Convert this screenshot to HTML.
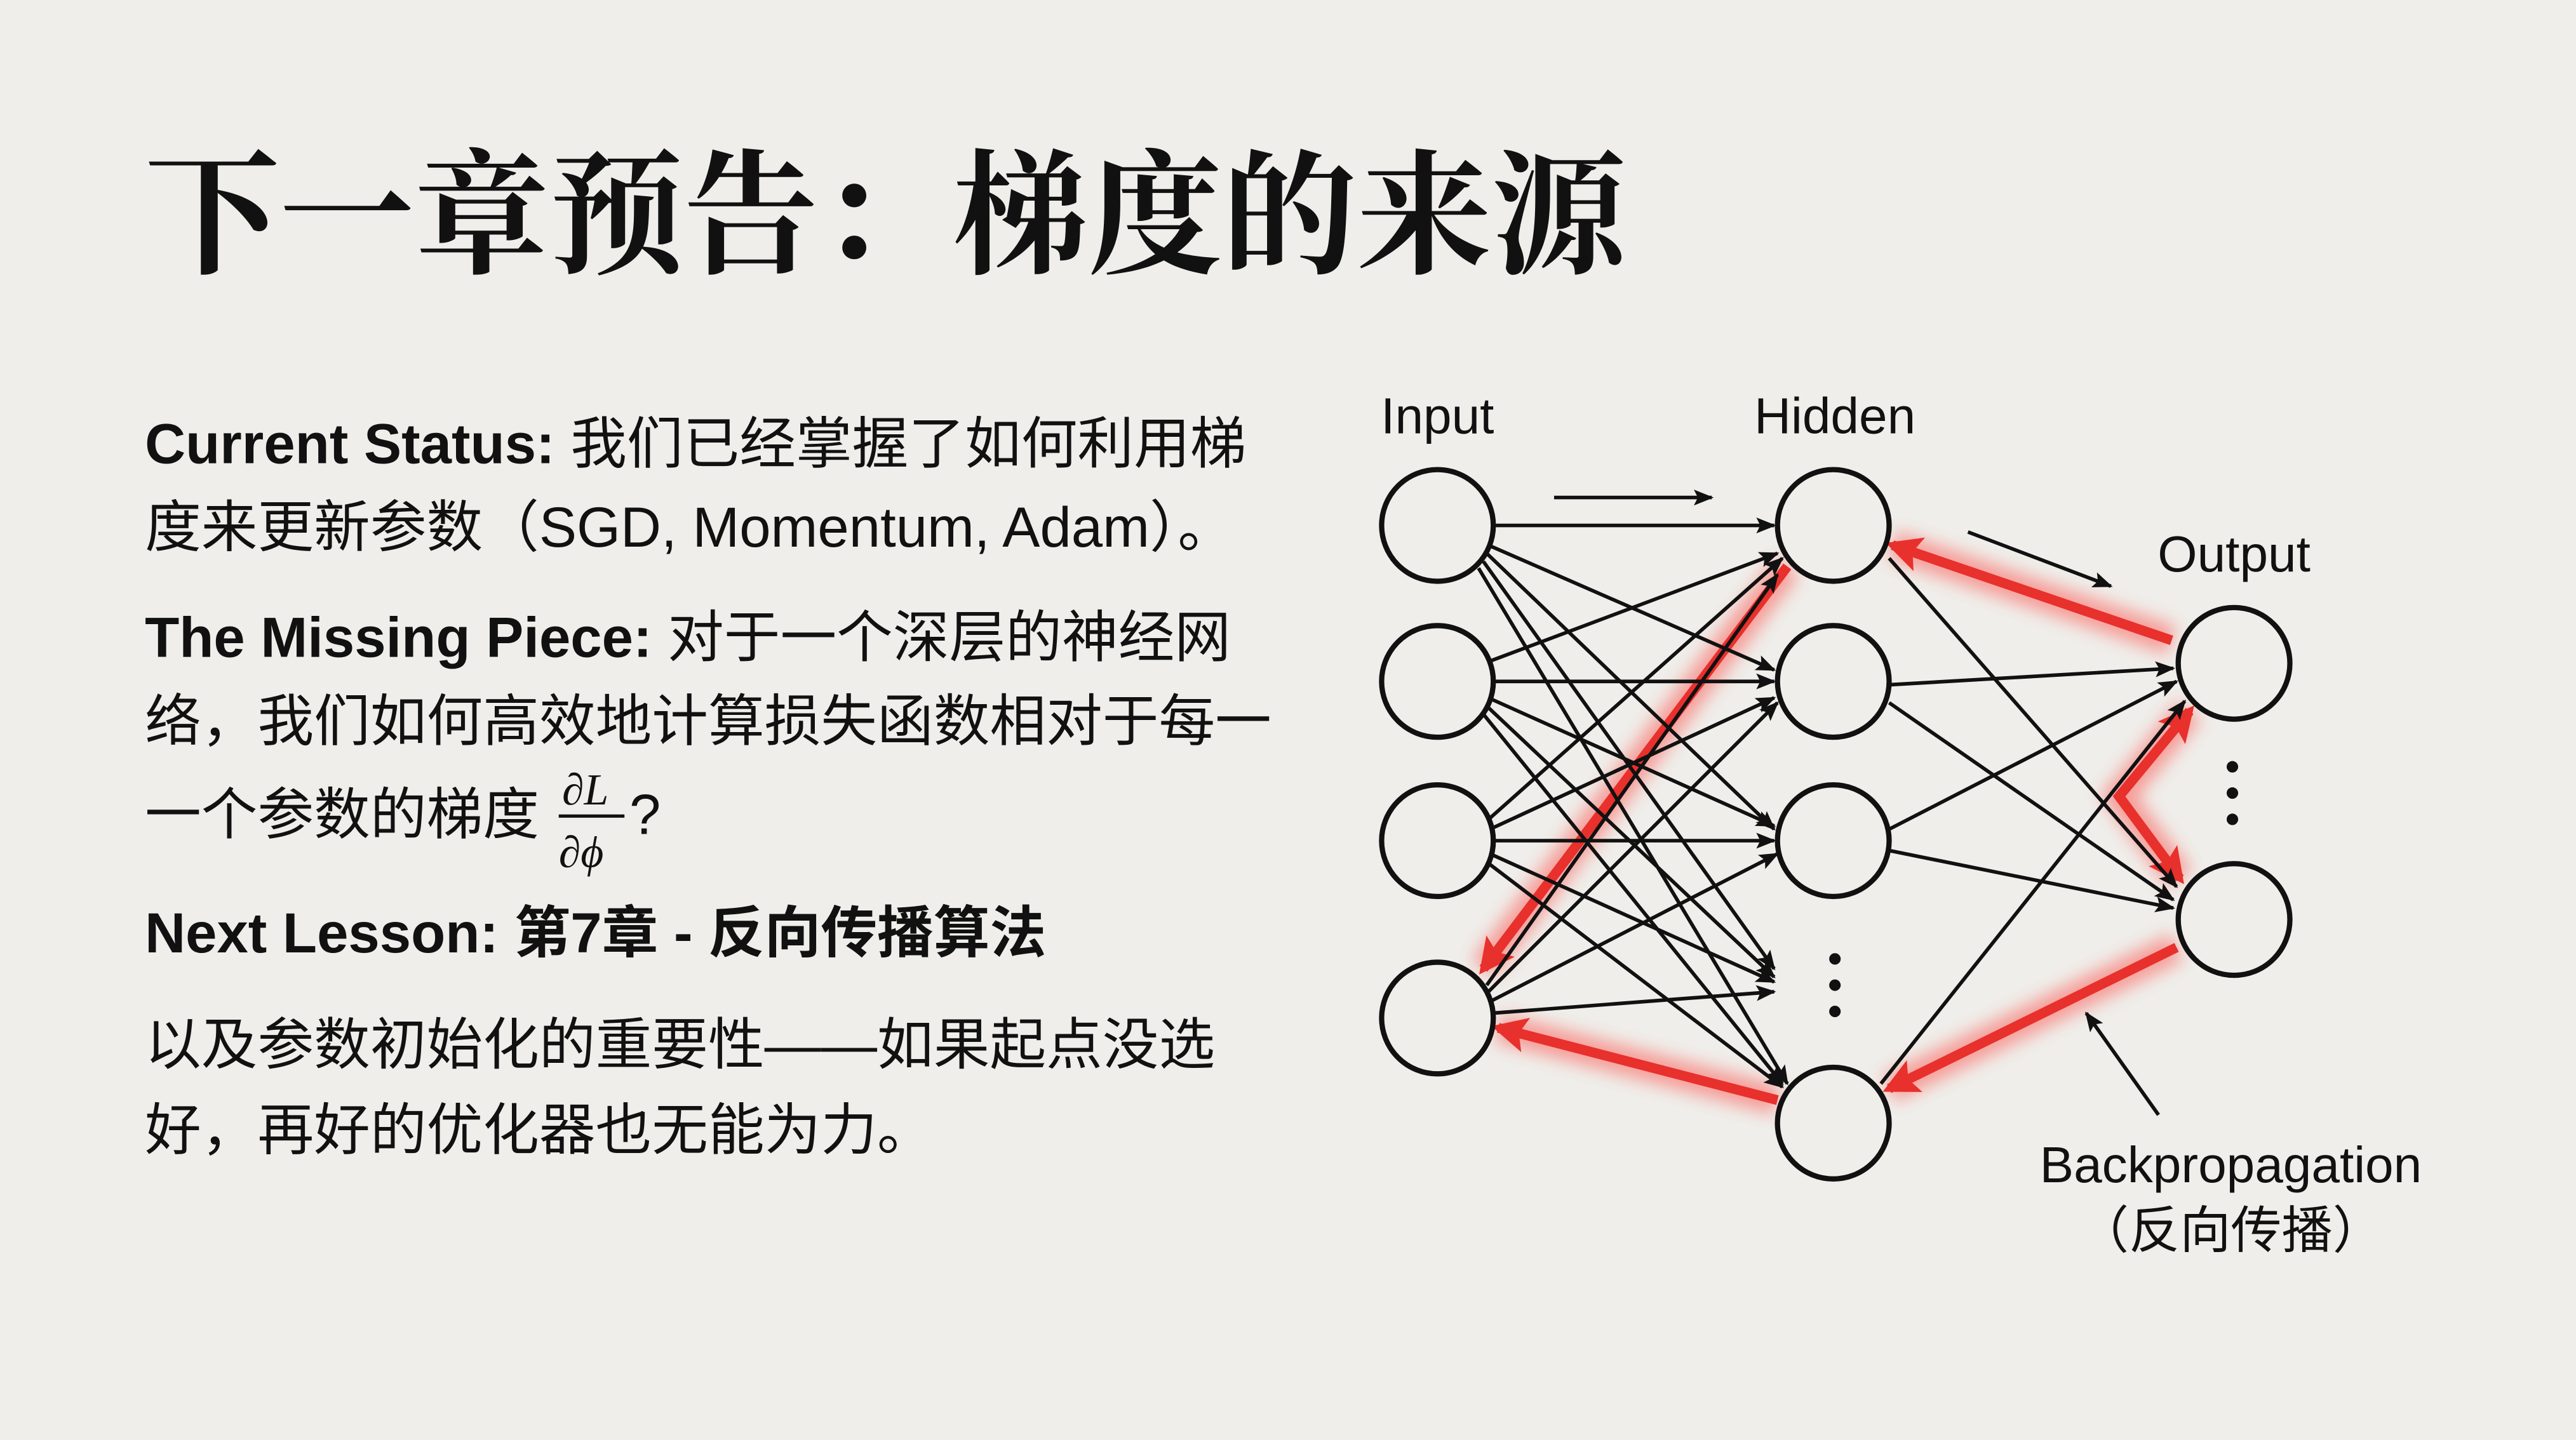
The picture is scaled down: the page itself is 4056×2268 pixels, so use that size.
<!DOCTYPE html>
<html><head><meta charset="utf-8"><style>
html,body{margin:0;padding:0;background:#efeeea;}
svg{display:block}
text{font-family:"Liberation Sans","Noto Sans CJK SC",sans-serif;fill:#111}
</style></head><body>
<svg width="4056" height="2268" viewBox="0 0 1568 877" xmlns="http://www.w3.org/2000/svg">
<defs>
<marker id="a" viewBox="0 0 10 10" refX="9" refY="5" markerWidth="5.5" markerHeight="5.5" orient="auto-start-reverse"><path d="M0,1 L10,5 L0,9 L2,5 z" fill="#111"/></marker>
<marker id="r" viewBox="0 0 10 10" refX="8" refY="5" markerWidth="3.6" markerHeight="3.6" orient="auto-start-reverse"><path d="M0,0 L10,5 L0,10 L2,5 z" fill="#e8302c"/></marker>
<filter id="g" x="-20%" y="-20%" width="140%" height="140%"><feGaussianBlur stdDeviation="5"/></filter>
</defs>
<rect width="1568" height="877" fill="#efeeea"/>
<text x="88" y="160" font-size="82" font-weight="bold" style="font-family:'Noto Serif CJK SC',serif">下一章预告：梯度的来源</text>

<g font-size="34.3">
<text x="88" y="282"><tspan font-weight="bold">Current Status:</tspan> 我们已经掌握了如何利用梯</text>
<text x="88" y="333">度来更新参数（SGD, Momentum, Adam）。</text>
<text x="88" y="400"><tspan font-weight="bold">The Missing Piece:</tspan> 对于一个深层的神经网</text>
<text x="88" y="451">络，我们如何高效地计算损失函数相对于每一</text>
<text x="88" y="508">一个参数的梯度</text>
<text x="342" y="490" font-size="27" font-style="italic" style="font-family:'Liberation Serif',serif">∂L</text>
<line x1="340" y1="497" x2="380" y2="497" stroke="#111" stroke-width="2"/>
<text x="340" y="528" font-size="27" font-style="italic" style="font-family:'Liberation Serif',serif">∂ϕ</text>
<text x="383" y="508">?</text>
<text x="88" y="580" font-weight="bold">Next Lesson:  第7章 - 反向传播算法</text>
<text x="88" y="648">以及参数初始化的重要性——如果起点没选</text>
<text x="88" y="700">好，再好的优化器也无能为力。</text>
</g>

<g font-size="31" text-anchor="middle">
<text x="875" y="264">Input</text>
<text x="1117" y="264">Hidden</text>
<text x="1360" y="348">Output</text>
<text x="1358" y="720">Backpropagation</text>
<text x="1358" y="760">（反向传播）</text>
</g>

<g stroke="#ff3b36" stroke-width="18" opacity="0.45" filter="url(#g)" fill="none">
<line x1="1322" y1="390" x2="1152" y2="332"/>
<line x1="1088" y1="345" x2="903" y2="590"/>
<line x1="1325" y1="577" x2="1150" y2="663"/>
<line x1="1082" y1="670" x2="912" y2="626"/>
<polyline points="1333,433 1290,485 1327,535"/>
</g>
<g stroke="#e8302c" stroke-width="6" fill="none">
<line x1="1322" y1="390" x2="1152" y2="332" marker-end="url(#r)"/>
<line x1="1088" y1="345" x2="903" y2="590" marker-end="url(#r)"/>
<line x1="1325" y1="577" x2="1150" y2="663" marker-end="url(#r)"/>
<line x1="1082" y1="670" x2="912" y2="626" marker-end="url(#r)"/>
<polyline points="1333,433 1290,485 1327,535" marker-start="url(#r)" marker-end="url(#r)"/>
</g>

<g stroke="#111" stroke-width="2.2" fill="none" marker-end="url(#a)">
<line x1="909" y1="320" x2="1080" y2="320"/>
<line x1="906" y1="332" x2="1080" y2="408"/>
<line x1="905" y1="337" x2="1080" y2="505"/>
<line x1="903" y1="342" x2="1080" y2="590"/>
<line x1="900" y1="346" x2="1088" y2="660"/>
<line x1="906" y1="403" x2="1082" y2="337"/>
<line x1="909" y1="415" x2="1080" y2="415"/>
<line x1="906" y1="425" x2="1080" y2="503"/>
<line x1="905" y1="430" x2="1080" y2="595"/>
<line x1="903" y1="435" x2="1085" y2="660"/>
<line x1="905" y1="500" x2="1085" y2="340"/>
<line x1="907" y1="505" x2="1080" y2="425"/>
<line x1="909" y1="512" x2="1080" y2="512"/>
<line x1="907" y1="520" x2="1080" y2="598"/>
<line x1="905" y1="525" x2="1085" y2="662"/>
<line x1="905" y1="600" x2="1082" y2="350"/>
<line x1="905" y1="605" x2="1082" y2="428"/>
<line x1="907" y1="610" x2="1082" y2="520"/>
<line x1="909" y1="617" x2="1080" y2="604"/>
<line x1="1150" y1="340" x2="1325" y2="540"/>
<line x1="1151" y1="417" x2="1323" y2="407"/>
<line x1="1150" y1="428" x2="1323" y2="548"/>
<line x1="1150" y1="505" x2="1325" y2="415"/>
<line x1="1150" y1="518" x2="1323" y2="553"/>
<line x1="1145" y1="660" x2="1330" y2="427"/>
<line x1="946" y1="303" x2="1042" y2="303"/>
<line x1="1198" y1="324" x2="1285" y2="357"/>
<line x1="1314" y1="679" x2="1270" y2="617"/>
</g>

<g stroke="#111" stroke-width="3.2" fill="#efeeea">
<circle cx="875" cy="320" r="34"/>
<circle cx="875" cy="415" r="34"/>
<circle cx="875" cy="512" r="34"/>
<circle cx="875" cy="620" r="34"/>
<circle cx="1116" cy="320" r="34"/>
<circle cx="1116" cy="415" r="34"/>
<circle cx="1116" cy="512" r="34"/>
<circle cx="1116" cy="684" r="34"/>
<circle cx="1360" cy="404" r="34"/>
<circle cx="1360" cy="560" r="34"/>
</g>
<g fill="#111">
<circle cx="1117" cy="584" r="3.5"/><circle cx="1117" cy="600" r="3.5"/><circle cx="1117" cy="616" r="3.5"/>
<circle cx="1359" cy="467" r="3.5"/><circle cx="1359" cy="483" r="3.5"/><circle cx="1359" cy="499" r="3.5"/>
</g>
</svg>
</body></html>
